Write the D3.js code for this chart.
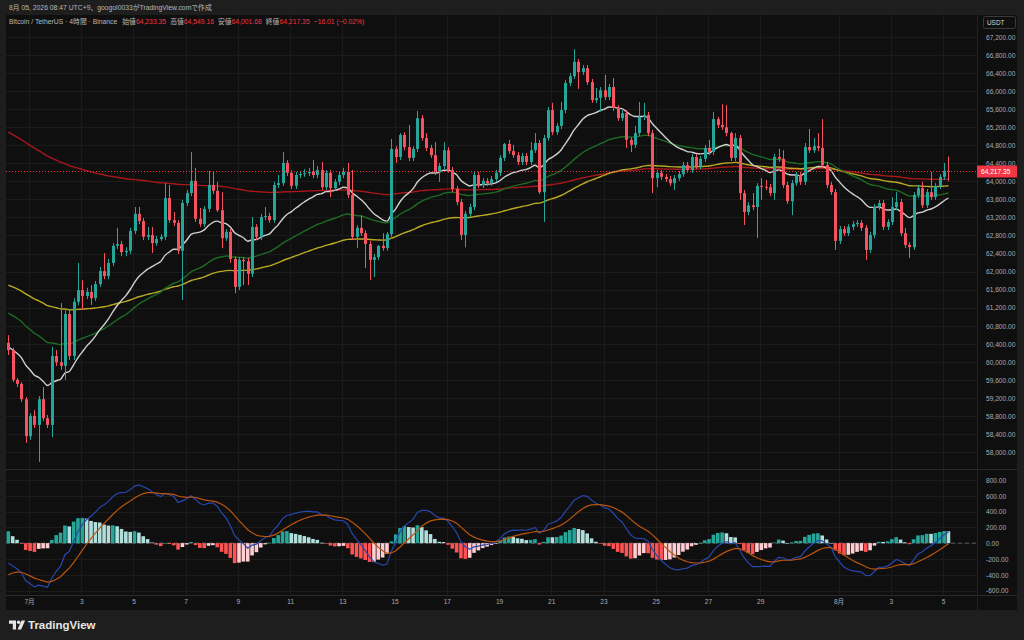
<!DOCTYPE html>
<html><head><meta charset="utf-8">
<script src="https://cdn.jsdelivr.net/npm/d3@7"></script>
<style>
html,body{margin:0;padding:0;background:#1e1e1e;overflow:hidden;}
svg{display:block;}
text{font-family:"Liberation Sans","Noto Sans CJK JP",sans-serif;}
</style></head>
<body>
<svg id="c" width="1024" height="640"></svg>
<script>
// ---------------- DATA ----------------
const startTime = Date.UTC(2026, 5, 30, 5); // first 4h candle, 2026-06-30 05:00 (UTC+9 clock)
const firstOpen = 60420;
const closes = [
60260,59600,59510,59170,58350,58800,58600,59170,58750,58600,
60130,59990,59910,61060,60130,61330,61590,61460,61550,61410,
61720,62010,61900,62190,62570,62610,62430,62460,62900,63280,
63120,62770,62810,62630,62720,62770,63630,63140,63080,62460,
63520,63740,64010,63170,63050,63390,63920,63790,63360,62740,
62880,62280,61660,62260,62230,61950,62990,62770,63210,63230,
63140,63920,63960,64410,64190,63900,64140,64160,64180,64210,
64140,64250,63870,64190,63850,63990,64140,64210,63700,62770,
62970,62850,62610,62260,62320,62570,62520,62830,64720,64540,
65030,64760,64520,64720,65400,64960,64740,64580,64210,64340,
64690,64250,63830,63540,62810,63280,63430,64140,63920,64010,
63960,64050,64190,64520,64830,64670,64580,64430,64560,64430,
64690,64850,63760,64960,65580,65090,65230,65580,66180,66330,
66650,66420,66510,66200,65800,65850,66020,65870,66090,65630,
65400,65510,64920,64810,65070,65430,65470,65070,64070,64190,
64100,64050,63960,64070,64160,64360,64250,64540,64340,64500,
64740,64650,65380,65250,65200,65070,64520,64960,63740,63320,
63470,63430,63900,63880,63870,63740,64540,64500,63920,63560,
63960,64140,63990,64760,64690,64780,64740,64360,63920,63760,
62680,62940,62850,62990,63050,63080,62970,62480,62810,63430,
63520,62990,63100,63430,63540,62850,62590,62540,63700,63850,
63470,63760,63650,63900,64100,64233.35,64217.35];
const highs = [
60590,60310,59640,59550,59220,58860,58930,59240,59440,58820,
60330,60260,61300,61150,61170,61410,62190,61810,61640,61700,
61790,62100,62410,62280,62630,62970,62680,62540,62970,63430,
63430,63190,62990,62990,62790,62830,63960,63920,63320,63140,
63590,63810,64650,64300,63410,63450,64230,64210,63990,63760,
62940,62940,62340,62320,62320,62300,63210,63050,63280,63430,
63300,63990,64140,64650,64470,64250,64210,64230,64270,64300,
64470,64340,64430,64250,64250,64050,64210,64300,64410,64250,
63030,63250,62920,62680,62390,62590,62850,62880,64940,64780,
65070,65090,65250,64780,65560,65470,65070,64810,64870,64410,
64870,64760,64320,63900,63610,63340,63500,64210,64210,64070,
64070,64120,64250,64580,64850,64920,64810,64650,64630,64630,
64870,65070,64920,65030,65650,65740,65290,65760,66250,66400,
66930,66710,66580,66580,66270,66070,66090,66360,66160,66290,
65690,65580,65580,64980,65230,65760,65740,65540,65140,64250,
64250,64160,64120,64140,64230,64430,64430,64610,64610,64560,
64810,64920,65540,65430,65710,65690,65100,65070,65030,63810,
63540,63740,63960,64070,64030,63940,64610,64720,64690,63990,
64030,64210,64210,64850,65160,64960,65070,65380,64430,63990,
63830,63010,63010,63050,63120,63140,63140,63030,62880,63500,
63590,63590,63160,63650,63760,63610,62970,62650,63760,63920,
63990,63830,64210,63960,64160,64410,64549.16];
const lows = [
60150,59550,59440,59110,58200,58270,58530,57780,58690,58530,
58330,59910,59820,59600,60040,60040,61260,61150,61390,61260,
61350,61660,61830,61830,62120,62500,62340,62340,62390,62830,
63050,62700,62700,62410,62570,62680,62700,63080,63010,62390,
61370,63450,63670,63100,62990,62990,63320,63720,63320,62520,
62680,62190,61520,61590,61700,61700,61880,62700,62700,63140,
63080,63080,63850,63900,64120,63830,63830,64070,64100,64120,
64070,64070,63810,63810,63650,63790,63920,64070,63630,62700,
62520,62790,62080,61810,61880,62260,62460,62460,62770,64410,
64470,64690,64450,64450,64650,64900,64670,64520,64140,63990,
64270,64190,63760,63470,62700,62540,63210,63360,63850,63850,
63900,63900,63990,64120,64450,64610,64520,64360,64360,64360,
64360,64630,63720,63100,64900,65030,65030,65160,65510,66110,
66270,66050,66360,66140,65740,65740,65540,65800,65800,65560,
65340,65340,64740,64650,64740,65000,65360,65000,63740,63870,
64030,63990,63900,63810,64010,64100,64190,64190,64270,64270,
64430,64580,64580,65180,65140,65000,64450,64450,63590,63030,
63250,63360,62740,63590,63810,63670,63590,64430,63850,63500,
63250,63900,63920,63920,64630,64630,64670,64300,63850,63700,
62480,62610,62790,62790,62920,62990,62900,62260,62410,62740,
63360,62920,62920,63030,63360,62790,62520,62300,62480,63630,
63410,63410,63590,63590,63830,64030,64001.68];

const maPeriods = [200, 100, 50, 20];
const maSeeds   = [65090, 61700, 61080, 60330];   // level of each EMA at the first candle
const macdSeeds = [60330, 60580, -400];           // EMA12, EMA26, signal at the first candle
const dayTicks = ["2026-07-01","2026-07-03","2026-07-05","2026-07-07","2026-07-09","2026-07-11","2026-07-13",
  "2026-07-15","2026-07-17","2026-07-19","2026-07-21","2026-07-23","2026-07-25","2026-07-27","2026-07-29",
  "2026-08-01","2026-08-03","2026-08-05"];
const priceTicks = [58000,58400,58800,59200,59600,60000,60400,60800,61200,61600,62000,62400,62800,
  63200,63600,64000,64400,64800,65200,65600,66000,66400,66800,67200];
const macdTicks = [800,600,400,200,0,-200,-400,-600];
const headerLine = "8月 05, 2026 08:47 UTC+9、googol0033がTradingView.comで作成";
const legendLabels = ["始値","高値","安値","終値"];
const legendValues = [64233.35, 64549.16, 64001.68, 64217.35];
const change = [-16.01, -0.02];

// ---------------- DERIVED ----------------
const H4 = 4*3600*1000;
const candles = closes.map((c,i)=>({
  t: new Date(startTime + i*H4),
  o: i===0 ? firstOpen : closes[i-1], h: highs[i], l: lows[i], c
}));
function ema(vals, period, seed){
  const a = 2/(period+1); const out=[seed];
  for(let i=1;i<vals.length;i++) out.push(out[i-1] + a*(vals[i]-out[i-1]));
  return out;
}
const maLines = maPeriods.map((p,k)=>ema(closes,p,maSeeds[k]));
const e12 = ema(closes,12,macdSeeds[0]), e26 = ema(closes,26,macdSeeds[1]);
const macd = e12.map((v,i)=>v-e26[i]);
const sig = ema(macd,9,macdSeeds[2]);
const hist = macd.map((v,i)=>v-sig[i]);

// ---------------- LAYOUT ----------------
const svg = d3.select("#c");
const L=6, R=977, AX=1017, TOP=15, MAINB=468, MTOP=470, MBOT=595, PANB=610;
const x = d3.scaleUtc().domain([new Date(Date.UTC(2026,6,1)), new Date(Date.UTC(2026,7,5))]).range([29,943]);
const y = d3.scaleLinear().domain([58000,67200]).range([452,37]);
const ym = d3.scaleLinear().domain([-600,800]).range([590.5,480]);

svg.append("rect").attr("width",1024).attr("height",640).attr("fill","#1e1e1e");
svg.append("rect").attr("x",L).attr("y",TOP).attr("width",AX-L).attr("height",PANB-TOP).attr("fill","#0f0f0f");

const defs = svg.append("defs");
defs.append("clipPath").attr("id","cm").append("rect").attr("x",L).attr("y",TOP).attr("width",R-L).attr("height",MAINB-TOP);
defs.append("clipPath").attr("id","cd").append("rect").attr("x",L).attr("y",MTOP).attr("width",R-L).attr("height",MBOT-MTOP);

// grid
const grid = svg.append("g").attr("stroke","#1b1b1b").attr("stroke-width",1);
priceTicks.forEach(p=>grid.append("line").attr("x1",L).attr("x2",R).attr("y1",Math.round(y(p))+0.5).attr("y2",Math.round(y(p))+0.5));
macdTicks.forEach(p=>grid.append("line").attr("x1",L).attr("x2",R).attr("y1",Math.round(ym(p))+0.5).attr("y2",Math.round(ym(p))+0.5));
dayTicks.forEach(d=>{const xx=Math.round(x(new Date(d+"T00:00:00Z")))+0.5;
  grid.append("line").attr("x1",xx).attr("x2",xx).attr("y1",TOP).attr("y2",MAINB);
  grid.append("line").attr("x1",xx).attr("x2",xx).attr("y1",MTOP).attr("y2",MBOT);});

// separators
svg.append("line").attr("x1",L).attr("x2",AX).attr("y1",469.5).attr("y2",469.5).attr("stroke","#2a2a2a");
svg.append("line").attr("x1",L).attr("x2",AX).attr("y1",MBOT+0.5).attr("y2",MBOT+0.5).attr("stroke","#2a2a2a");
svg.append("line").attr("x1",R+0.5).attr("x2",R+0.5).attr("y1",TOP).attr("y2",PANB).attr("stroke","#222");

// ---------------- MAIN PANE ----------------
const gm = svg.append("g").attr("clip-path","url(#cm)");
const maColors = ["#a8171a","#b9a824","#1d6a23","#cfcfcf"];
maLines.forEach((vals,k)=>{
  gm.append("path").datum(vals)
    .attr("d", d3.line().x((v,i)=>x(candles[i].t)).y(v=>y(v)).curve(d3.curveMonotoneX))
    .attr("fill","none").attr("stroke",maColors[k]).attr("stroke-width",1.4);
});
const UP="#26a69a", DN="#f7525f";
const cg = gm.selectAll("g.c").data(candles).join("g");
cg.append("line")
  .attr("x1",d=>Math.round(x(d.t))+0.5).attr("x2",d=>Math.round(x(d.t))+0.5)
  .attr("y1",d=>y(d.h)).attr("y2",d=>y(d.l))
  .attr("stroke",d=>d.c>=d.o?UP:DN).attr("stroke-width",1);
cg.append("rect")
  .attr("x",d=>Math.round(x(d.t))-1).attr("width",3)
  .attr("y",d=>y(Math.max(d.o,d.c)))
  .attr("height",d=>Math.max(1,Math.abs(y(d.o)-y(d.c))))
  .attr("fill",d=>d.c>=d.o?UP:DN);

// last price line
const last = closes[closes.length-1];
svg.append("line").attr("x1",L).attr("x2",R).attr("y1",y(last)).attr("y2",y(last))
  .attr("stroke","#f23645").attr("stroke-width",1).attr("stroke-dasharray","1,2");

// ---------------- MACD PANE ----------------
const gd = svg.append("g").attr("clip-path","url(#cd)");
gd.append("line").attr("x1",L).attr("x2",R).attr("y1",ym(0)).attr("y2",ym(0))
  .attr("stroke","#5a5a5a").attr("stroke-dasharray","4,3");
gd.selectAll("rect.h").data(hist).join("rect")
  .attr("x",(v,i)=>x(candles[i].t)-1.8).attr("width",3.6)
  .attr("y",v=>Math.min(ym(v),ym(0))).attr("height",v=>Math.max(0.6,Math.abs(ym(v)-ym(0))))
  .attr("fill",(v,i)=>{const p=i>0?hist[i-1]:v;
    if(v>=0) return v>=p?"#26a69a":"#b2dfdb"; return v<p?"#ff5252":"#ffcdd2";});
gd.append("path").datum(macd).attr("d",d3.line().x((v,i)=>x(candles[i].t)).y(v=>ym(v)))
  .attr("fill","none").attr("stroke","#2747b0").attr("stroke-width",1.2);
gd.append("path").datum(sig).attr("d",d3.line().x((v,i)=>x(candles[i].t)).y(v=>ym(v)))
  .attr("fill","none").attr("stroke","#bb540f").attr("stroke-width",1.2);

// ---------------- AXES ----------------
const axTxt = g=>{g.select(".domain").remove(); g.selectAll("line").remove();
  g.selectAll("text").attr("fill","#a9acb4").attr("font-size","6.6px");};
svg.append("g").attr("transform",`translate(${R},0)`)
  .call(d3.axisRight(y).tickValues(priceTicks).tickFormat(d3.format(",.2f")).tickSize(0).tickPadding(9))
  .call(axTxt).selectAll("text").attr("dy","0.35em");
svg.append("g").attr("transform",`translate(${R},0)`)
  .call(d3.axisRight(ym).tickValues(macdTicks).tickFormat(d=>d3.format(".2f")(d).replace("−","-")).tickSize(0).tickPadding(9))
  .call(axTxt).selectAll("text").attr("dy","0.35em");
svg.append("g").attr("transform",`translate(0,${MBOT})`)
  .call(d3.axisBottom(x).tickValues(dayTicks.map(d=>new Date(d+"T00:00:00Z"))).tickSize(0).tickPadding(4)
    .tickFormat(d=>d.getUTCDate()===1 ? (d.getUTCMonth()+1)+"月" : d.getUTCDate()))
  .call(axTxt);

// price tag
svg.append("rect").attr("x",R).attr("y",y(last)-6).attr("width",40).attr("height",12).attr("fill","#f23645");
svg.append("text").attr("x",R+4).attr("y",y(last)).attr("dy","0.35em").attr("fill","#fff")
  .attr("font-size","6.6px").text(d3.format(",.2f")(last));
// currency box
svg.append("rect").attr("x",983.5).attr("y",16.5).attr("width",32).attr("height",12).attr("rx",2)
  .attr("fill","#0f0f0f").attr("stroke","#3a3a3a");
svg.append("text").attr("x",987).attr("y",22.5).attr("dy","0.35em").attr("fill","#d6d6d6").attr("font-size","6.4px").text("USDT");

// ---------------- HEADER ----------------
svg.append("text").attr("x",9).attr("y",7.5).attr("dy","0.35em").attr("fill","#b8b8b8")
  .attr("font-size","6.8px").attr("font-family","Noto Sans CJK JP").text(headerLine);
const lg = svg.append("text").attr("x",9).attr("y",22).attr("dy","0.35em").attr("font-size","6.8px")
  .attr("font-family","Noto Sans CJK JP");
lg.append("tspan").attr("fill","#b8b8b8").text("Bitcoin / TetherUS · 4時間 · Binance");
legendLabels.forEach((lab,i)=>{
  lg.append("tspan").attr("fill","#b8b8b8").attr("dx",i===0?5:4).text(lab);
  lg.append("tspan").attr("fill","#f23645").text(d3.format(",.2f")(legendValues[i]));
});
lg.append("tspan").attr("fill","#f23645").attr("dx",4)
  .text(`${d3.format(".2f")(change[0]).replace("-","−")} (${d3.format(".2f")(change[1]).replace("-","−")}%)`);

// ---------------- FOOTER LOGO ----------------
const lgo = svg.append("g").attr("fill","#e6e6e6");
lgo.append("path").attr("d","M9,620.5 h7 v9 h-3.2 v-5.8 h-3.8 z");
lgo.append("circle").attr("cx",18.6).attr("cy",622.3).attr("r",1.7);
lgo.append("path").attr("d","M21.5,620.5 h3.6 l-4,9 h-3.6 z");
svg.append("text").attr("x",28).attr("y",625).attr("dy","0.35em").attr("fill","#e6e6e6")
  .attr("font-size","11.5px").attr("font-weight","600").attr("font-family","Roboto").text("TradingView");
</script>
</body></html>
